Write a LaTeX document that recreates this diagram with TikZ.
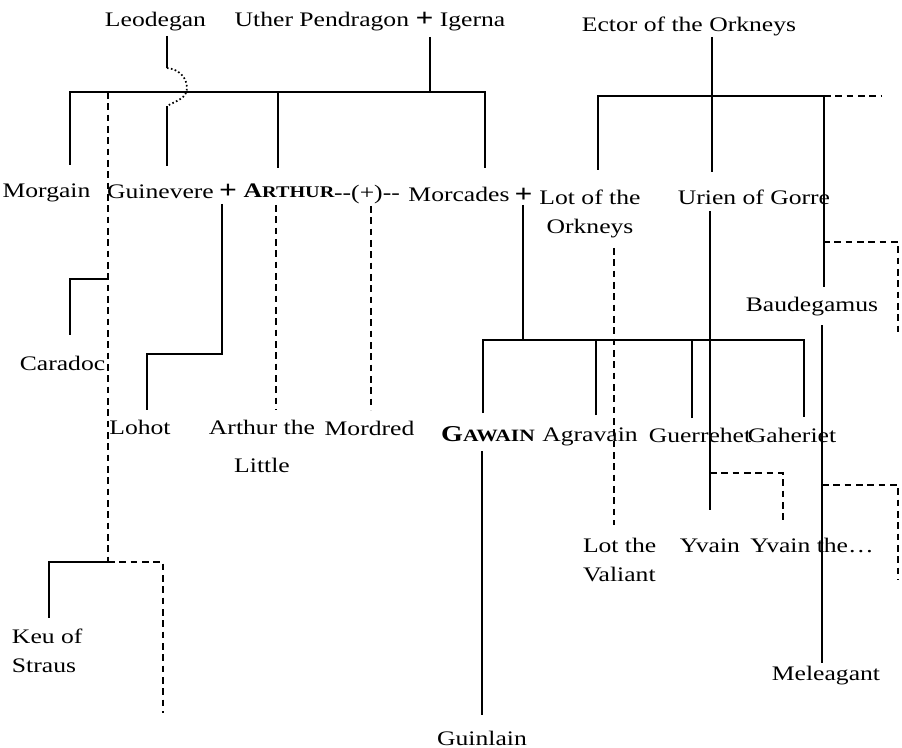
\documentclass[tikz,border=0pt]{standalone}
\usepackage{fontspec}
\setmainfont{Liberation Serif}[FakeStretch=1.24]
\tikzset{
  kin/.style={line width=1.2pt},
  hint/.style={line width=1.5pt, dash pattern=on 5pt off 3.5pt},
  hop/.style={line width=1.3pt, dash pattern=on 1.2pt off 1.8pt},
  who/.style={inner sep=0pt, outer sep=0pt, anchor=base},
}
\newcommand{\hero}[4]{{\bfseries\fontsize{#1}{20}\selectfont#3\fontsize{#2}{20}\selectfont#4}}
\newcommand{\wed}{{\bfseries\fontsize{19}{20}\selectfont +}}

\begin{document}
\begin{tikzpicture}[x=0.75pt, y=-0.75pt, font=\fontsize{15.5}{21.75}\selectfont]
    \fill[white] (0,0) rectangle (902,748);
    \useasboundingbox (0,0) rectangle (902,748);

    % Parents
    \node[who] (leodegan) at (155.5,27) {Leodegan};
    \node[who] (uther) at (370,27) {Uther Pendragon \wed{} Igerna};
    \node[who] (ector) at (689,32) {Ector of the Orkneys};

    % Children and spouses
    \node[who] (morgain) at (46.5,198) {Morgain};
    \node[who] (guinevere) at (160.5,199) {Guinevere};
    \node[who] (wedga) at (228,199) {\wed};
    \node[who] (arthur) at (289,198) {\hero{15.5}{12.2}{A}{RTHUR}};
    \node[who] (affair) at (367,200) {-{}-(+)-{}-};
    \node[who] (morcades) at (459,202) {Morcades};
    \node[who] (wedml) at (523.5,203) {\wed};
    \node[who, anchor=north, align=center] (lot) at (590,190) {Lot of the\\Orkneys};
    \node[who] (urien) at (754,205) {Urien of Gorre};
    \node[who] (caradoc) at (62.5,370) {Caradoc};
    \node[who] (baudegamus) at (812,311) {Baudegamus};

    % Grandchildren
    \node[who] (lohot) at (140,434) {Lohot};
    \node[who, anchor=north, align=center] (arthurlittle) at (262,420) {Arthur the\\[7pt]Little};
    \node[who] (mordred) at (369.5,435) {Mordred};
    \node[who] (gawain) at (488,441) {\hero{17}{13}{G}{AWAIN}};
    \node[who] (agravain) at (590,441) {Agravain};
    \node[who] (guerrehet) at (700,442) {Guerrehet};
    \node[who] (gaheriet) at (792,442) {Gaheriet};
    \node[who, anchor=north west, align=left] (lotvaliant) at (583,538) {Lot the\\Valiant};
    \node[who] (yvain) at (710,552) {Yvain};
    \node[who] (yvainthe) at (812,552) {Yvain the\dots};
    \node[who, anchor=north west, align=left] (keu) at (12,629) {Keu of\\Straus};
    \node[who] (meleagant) at (826,680) {Meleagant};
    \node[who] (guinlain) at (482,745) {Guinlain};

    % Leodegan to Guinevere, hopping over the bar
    \coordinate (leo1) at (167,36);
    \coordinate (leo2) at (167,68);
    \coordinate (leo3) at (167,106);
    \coordinate (guin1) at (167,166);
    \draw[kin] (leo1) -- (leo2);
    \draw[hop] (leo2) to[out=-5,in=90] (187,88) to[out=-90,in=30] (leo3);
    \draw[kin] (leo3) -- (guin1);

    % Uther Pendragon + Igerna
    \coordinate (uth1) at (430,37);
    \coordinate (bar1) at (430,92);
    \coordinate (morg1) at (70,165);
    \coordinate (arth1) at (278,168);
    \coordinate (morc1) at (485,168);
    \draw[kin] (uth1) -- (bar1);
    \draw[kin] (morg1) |- (bar1) -| (morc1);
    \draw[kin] (arth1) -- (arth1 |- bar1);

    % Morgain's line to Caradoc and Keu
    \coordinate (hint1) at (108,92);
    \coordinate (hint2) at (108,279);
    \coordinate (hint3) at (108,562);
    \coordinate (car1) at (70,335);
    \coordinate (keu1) at (49,618);
    \coordinate (keu2) at (163,713);
    \draw[hint] (hint1) -- (hint3);
    \draw[kin] (hint2) -| (car1);
    \draw[kin] (hint3) -| (keu1);
    \draw[hint] (hint3) -| (keu2);

    % Guinevere + Arthur
    \coordinate (loh1) at (222,204);
    \coordinate (loh2) at (147,354);
    \coordinate (loh3) at (147,410);
    \draw[kin] (loh1) |- (loh2) -- (loh3);
    \coordinate (al1) at (276,205);
    \coordinate (al2) at (276,410);
    \coordinate (mor1) at (371,206);
    \coordinate (mor2) at (371,410);
    \draw[hint] (al1) -- (al2);
    \draw[hint] (mor1) -- (mor2);

    % Morcades + Lot
    \coordinate (ml1) at (523,205);
    \coordinate (ml2) at (523,340);
    \coordinate (gaw1) at (483,413);
    \coordinate (agr1) at (596,415);
    \coordinate (gue1) at (692,418);
    \coordinate (gah1) at (804,417);
    \draw[kin] (ml1) -- (ml2);
    \draw[kin] (gaw1) |- (ml2) -| (gah1);
    \foreach \c in {agr1,gue1}
        \draw[kin] (\c) -- (\c |- ml2);
    \coordinate (gw1) at (482,451);
    \coordinate (gw2) at (482,715);
    \draw[kin] (gw1) -- (gw2);
    \coordinate (lv1) at (614,248);
    \coordinate (lv2) at (614,525);
    \draw[hint] (lv1) -- (lv2);

    % Ector of the Orkneys
    \coordinate (ect1) at (712,37);
    \coordinate (ect2) at (712,96);
    \coordinate (lot1) at (598,170);
    \coordinate (uri1) at (712,172);
    \coordinate (bau1) at (824,287);
    \coordinate (ectend) at (882,96);
    \draw[kin] (ect1) -- (uri1);
    \draw[kin] (lot1) |- (ect2) -| (bau1);
    \draw[hint] (bau1 |- ect2) -- (ectend);

    % Baudegamus to Meleagant
    \coordinate (bau2) at (822,325);
    \coordinate (mel1) at (822,663);
    \coordinate (bauh1) at (823,242);
    \coordinate (bauh2) at (898,335);
    \coordinate (melh1) at (822,485);
    \coordinate (melh2) at (898,580);
    \draw[kin] (bau2) -- (mel1);
    \draw[hint] (bauh1) -| (bauh2);
    \draw[hint] (melh1) -| (melh2);

    % Urien to Yvain
    \coordinate (uri2) at (710,211);
    \coordinate (uri3) at (710,473);
    \coordinate (yva1) at (710,510);
    \coordinate (yvt1) at (783,520);
    \draw[kin] (uri2) -- (yva1);
    \draw[hint] (uri3) -| (yvt1);
\end{tikzpicture}
\end{document}
